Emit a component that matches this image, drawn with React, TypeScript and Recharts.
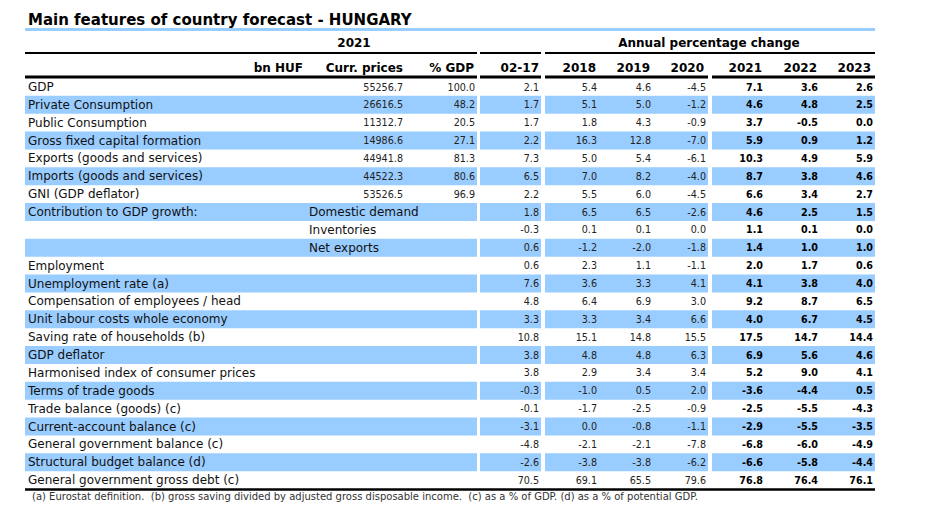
import React from "react";
import { ComposedChart, Bar, XAxis, YAxis, Cell, LabelList } from "recharts";

const rowLabels = [
  "GDP", "Private Consumption", "Public Consumption", "Gross fixed capital formation",
  "Exports (goods and services)", "Imports (goods and services)", "GNI (GDP deflator)",
  "Contribution to GDP growth:", "", "", "Employment", "Unemployment rate (a)",
  "Compensation of employees / head", "Unit labour costs whole economy",
  "Saving rate of households (b)", "GDP deflator", "Harmonised index of consumer prices",
  "Terms of trade goods", "Trade balance (goods) (c)", "Current-account balance (c)",
  "General government balance (c)", "Structural budget balance (d)",
  "General government gross debt (c)",
];
const subLabels = ["", "", "", "", "", "", "", "Domestic demand", "Inventories", "Net exports",
  "", "", "", "", "", "", "", "", "", "", "", "", ""];

const currPrices = [55256.7, 26616.5, 11312.7, 14986.6, 44941.8, 44522.3, 53526.5,
  null, null, null, null, null, null, null, null, null, null, null, null, null, null, null, null];
const pctGdp = [100.0, 48.2, 20.5, 27.1, 81.3, 80.6, 96.9,
  null, null, null, null, null, null, null, null, null, null, null, null, null, null, null, null];
const avg0217 = [2.1, 1.7, 1.7, 2.2, 7.3, 6.5, 2.2, 1.8, -0.3, 0.6, 0.6, 7.6, 4.8, 3.3, 10.8, 3.8, 3.8, -0.3, -0.1, -3.1, -4.8, -2.6, 70.5];
const y2018 = [5.4, 5.1, 1.8, 16.3, 5.0, 7.0, 5.5, 6.5, 0.1, -1.2, 2.3, 3.6, 6.4, 3.3, 15.1, 4.8, 2.9, -1.0, -1.7, 0.0, -2.1, -3.8, 69.1];
const y2019 = [4.6, 5.0, 4.3, 12.8, 5.4, 8.2, 6.0, 6.5, 0.1, -2.0, 1.1, 3.3, 6.9, 3.4, 14.8, 4.8, 3.4, 0.5, -2.5, -0.8, -2.1, -3.8, 65.5];
const y2020 = [-4.5, -1.2, -0.9, -7.0, -6.1, -4.0, -4.5, -2.6, 0.0, -1.8, -1.1, 4.1, 3.0, 6.6, 15.5, 6.3, 3.4, 2.0, -0.9, -1.1, -7.8, -6.2, 79.6];
const y2021 = [7.1, 4.6, 3.7, 5.9, 10.3, 8.7, 6.6, 4.6, 1.1, 1.4, 2.0, 4.1, 9.2, 4.0, 17.5, 6.9, 5.2, -3.6, -2.5, -2.9, -6.8, -6.6, 76.8];
const y2022 = [3.6, 4.8, -0.5, 0.9, 4.9, 3.8, 3.4, 2.5, 0.1, 1.0, 1.7, 3.8, 8.7, 6.7, 14.7, 5.6, 9.0, -4.4, -5.5, -5.5, -6.0, -5.8, 76.4];
const y2023 = [2.6, 2.5, 0.0, 1.2, 5.9, 4.6, 2.7, 1.5, 0.0, 1.0, 0.6, 4.0, 6.5, 4.5, 14.4, 4.6, 4.1, 0.5, -4.3, -3.5, -4.9, -4.4, 76.1];

const colHeads = ["bn HUF", "Curr. prices", "% GDP", "02-17", "2018", "2019", "2020", "2021", "2022", "2023"];
const footnote = "(a) Eurostat definition.  (b) gross saving divided by adjusted gross disposable income.  (c) as a % of GDP. (d) as a % of potential GDP.";

const W = 925;
const H = 516;
const LEFT = 25;
const TOP = 78;
const BOTTOM = 489;
const BLUE = "#99CCFF";
const FONT = "'DejaVu Sans', sans-serif";

// column segments in px along the table width (850)
const SEG = { a: 379, b: 73, g1: 3, c: 61, g2: 4, d: 54, e: 54, f: 55, g3: 4, g: 53, h: 55, i: 55 };
const headRight = [303, 403, 474, 539, 596, 650, 704, 762, 817, 871];

const data = rowLabels.map((name, i) => ({
  key: String(i),
  name,
  sub: subLabels[i],
  cp: currPrices[i],
  pg: pctGdp[i],
  v0217: avg0217[i],
  v2018: y2018[i],
  v2019: y2019[i],
  v2020: y2020[i],
  v2021: y2021[i],
  v2022: y2022[i],
  v2023: y2023[i],
  ...SEG,
}));

const box = (p: any) => {
  const vb = p.viewBox || {};
  return {
    x: p.x ?? vb.x,
    y: p.y ?? vb.y,
    width: p.width ?? vb.width,
    height: p.height ?? vb.height,
  };
};

const textCell = (dataKey: string, offset: number) => (p: any) => {
  const { x, y, height } = box(p);
  const v = data[p.index]?.[dataKey as "name"];
  if (!v) return null;
  return (
    <text x={x + offset} y={y + height / 2} dominantBaseline="central" fontSize={12} fontFamily={FONT} fill="#111">
      {v}
    </text>
  );
};

const numCell = (dataKey: string, bold: boolean, pad = 2) => (p: any) => {
  const { x, y, width, height } = box(p);
  const v = data[p.index]?.[dataKey as "cp"];
  if (v === null || v === undefined) return null;
  return (
    <text
      x={x + width - pad}
      y={y + height / 2}
      dominantBaseline="central"
      textAnchor="end"
      fontSize={9.6}
      fontFamily={FONT}
      fontWeight={bold ? "bold" : "normal"}
      fill={bold ? "#000" : "#222"}
    >
      {(v as number).toFixed(1)}
    </text>
  );
};

const stripe = (i: number) => (i % 2 === 1 ? BLUE : "none");

const segBar = (k: string, filled: boolean, cellKey?: string, bold = false) => (
  <Bar key={k} dataKey={k} stackId="t" isAnimationActive={false}>
    {data.map((_, i) => (
      <Cell key={i} fill={filled ? stripe(i) : "none"} />
    ))}
    {cellKey && <LabelList dataKey={cellKey} content={numCell(cellKey, bold)} />}
  </Bar>
);

export default function App() {
  return (
    <div style={{ position: "absolute", left: 0, top: 0, width: W, height: H, background: "#fff" }}>
      <ComposedChart
        width={W}
        height={H}
        data={data}
        layout="vertical"
        margin={{ top: TOP, right: W - 875, bottom: H - BOTTOM, left: LEFT }}
        barCategoryGap={0}
        barGap={0}
      >
        <XAxis type="number" domain={[0, 850]} hide />
        <YAxis type="category" dataKey="key" hide />
        <Bar dataKey="a" stackId="t" isAnimationActive={false}>
          {data.map((_, i) => (
            <Cell key={i} fill={stripe(i)} />
          ))}
          <LabelList dataKey="name" content={textCell("name", 3)} />
          <LabelList dataKey="sub" content={textCell("sub", 284)} />
          <LabelList dataKey="cp" content={numCell("cp", false, 1)} />
        </Bar>
        {segBar("b", true, "pg")}
        {segBar("g1", false)}
        {segBar("c", true, "v0217")}
        {segBar("g2", false)}
        {segBar("d", true, "v2018")}
        {segBar("e", true, "v2019")}
        {segBar("f", true, "v2020")}
        {segBar("g3", false)}
        {segBar("g", true, "v2021", true)}
        {segBar("h", true, "v2022", true)}
        {segBar("i", true, "v2023", true)}
      </ComposedChart>
      <svg width={W} height={H} style={{ position: "absolute", left: 0, top: 0, pointerEvents: "none" }}>
        <text x={28} y={25} fontSize={15} fontWeight="bold" fontFamily={FONT} fill="#000">
          Main features of country forecast - HUNGARY
        </text>
        <line x1={25} x2={875} y1={29.5} y2={29.5} stroke={BLUE} strokeWidth={3} />
        <text x={354} y={47} textAnchor="middle" fontSize={12} fontWeight="bold" fontFamily={FONT}>2021</text>
        <text x={709} y={47} textAnchor="middle" fontSize={12} fontWeight="bold" fontFamily={FONT}>Annual percentage change</text>
        <g stroke="#000" strokeWidth={2}>
          <line x1={25} x2={477} y1={53} y2={53} />
          <line x1={480} x2={541} y1={53} y2={53} />
          <line x1={545} x2={875} y1={53} y2={53} />
        </g>
        {colHeads.map((h, i) => (
          <text key={h} x={headRight[i]} y={72} textAnchor="end" fontSize={12} fontWeight="bold" fontFamily={FONT}>
            {h}
          </text>
        ))}
        <g stroke="#000" strokeWidth={3}>
          <line x1={25} x2={477} y1={77} y2={77} />
          <line x1={480} x2={541} y1={77} y2={77} />
          <line x1={545} x2={708} y1={77} y2={77} />
          <line x1={712} x2={875} y1={77} y2={77} />
        </g>
        <line x1={25} x2={875} y1={489.5} y2={489.5} stroke="#000" strokeWidth={2.5} />
        <text x={32} y={500} fontSize={10} fontFamily={FONT} fill="#333" style={{ whiteSpace: "pre" }}>{footnote}</text>
      </svg>
    </div>
  );
}
